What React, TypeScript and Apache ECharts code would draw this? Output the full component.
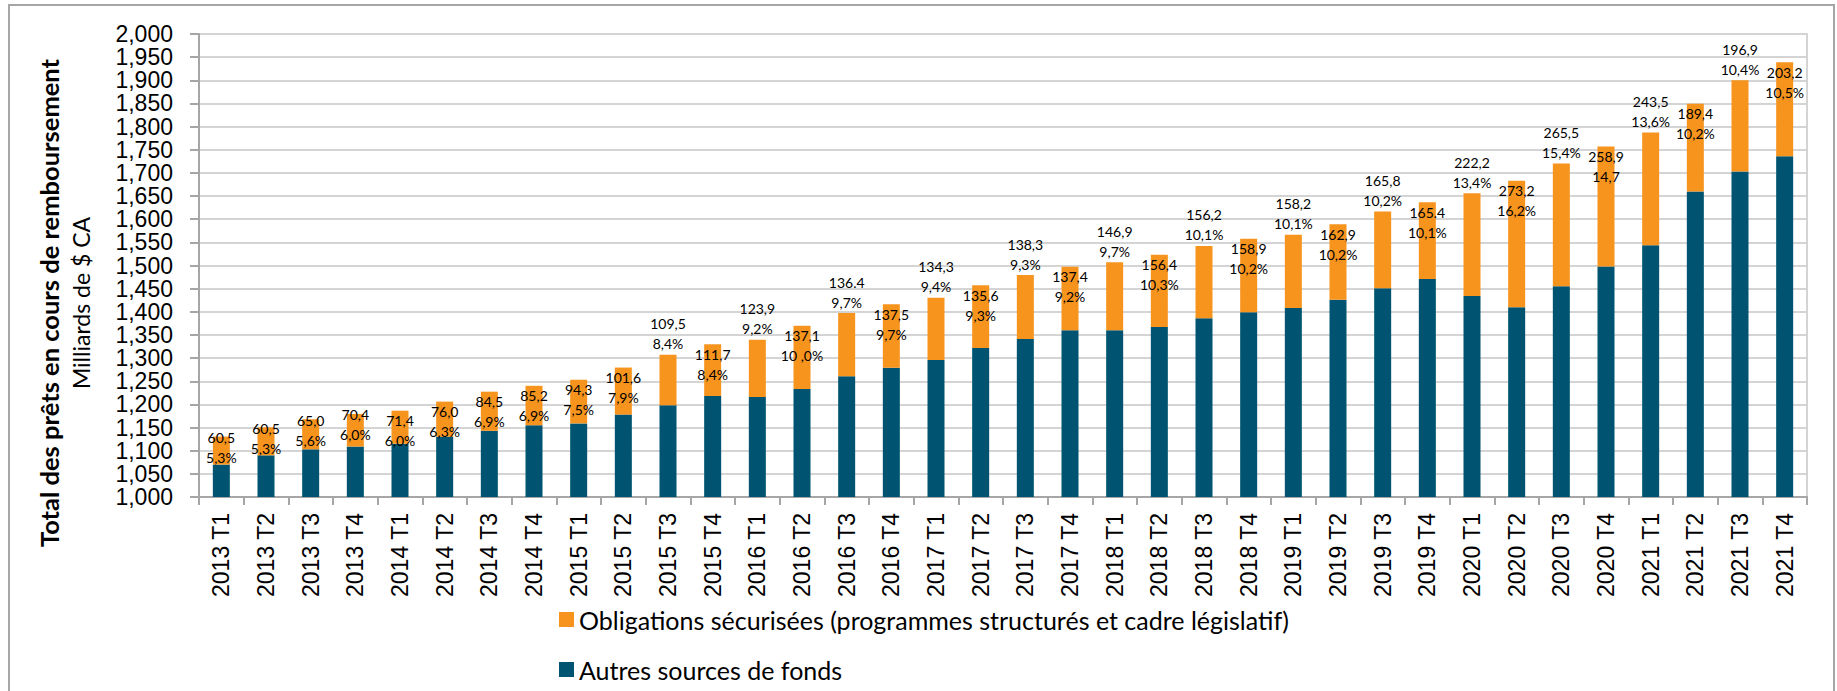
import React, { useEffect, useRef } from "react";
import * as echarts from "echarts";

const categories = [
  "2013 T1", "2013 T2", "2013 T3", "2013 T4",
  "2014 T1", "2014 T2", "2014 T3", "2014 T4",
  "2015 T1", "2015 T2", "2015 T3", "2015 T4",
  "2016 T1", "2016 T2", "2016 T3", "2016 T4",
  "2017 T1", "2017 T2", "2017 T3", "2017 T4",
  "2018 T1", "2018 T2", "2018 T3", "2018 T4",
  "2019 T1", "2019 T2", "2019 T3", "2019 T4",
  "2020 T1", "2020 T2", "2020 T3", "2020 T4",
  "2021 T1", "2021 T2", "2021 T3", "2021 T4",
];

// Autres sources de fonds (milliards de $ CA)
const autres = [
  1070, 1090, 1103, 1109, 1115, 1130, 1143, 1155, 1159, 1178, 1198, 1218,
  1216, 1233, 1261, 1279, 1296, 1322, 1341, 1360, 1360, 1367, 1386, 1399,
  1408, 1426, 1451, 1471, 1434, 1410, 1455, 1498, 1544, 1660, 1703, 1736,
];

// Obligations sécurisées (milliards de $ CA)
const obligations = [
  60.5, 60.5, 65.0, 70.4, 71.4, 76.0, 84.5, 85.2, 94.3, 101.6, 109.5, 111.7,
  123.9, 137.1, 136.4, 137.5, 134.3, 135.6, 138.3, 137.4, 146.9, 156.4, 156.2, 158.9,
  158.2, 162.9, 165.8, 165.4, 222.2, 273.2, 265.5, 258.9, 243.5, 189.4, 196.9, 203.2,
];

const obligationLabels = [
  "60,5", "60,5", "65,0", "70,4", "71,4", "76,0", "84,5", "85,2", "94,3", "101,6", "109,5", "111,7",
  "123,9", "137,1", "136.4", "137,5", "134,3", "135,6", "138,3", "137,4", "146,9", "156,4", "156,2", "158,9",
  "158,2", "162,9", "165,8", "165.4", "222,2", "273,2", "265,5", "258,9", "243,5", "189,4", "196,9", "203,2",
];

const shareLabels = [
  "5,3%", "5,3%", "5,6%", "6,0%", "6,0%", "6,3%", "6,9%", "6,9%", "7,5%", "7,9%", "8,4%", "8,4%",
  "9,2%", "10 ,0%", "9,7%", "9,7%", "9,4%", "9,3%", "9,3%", "9,2%", "9,7%", "10,3%", "10,1%", "10,2%",
  "10,1%", "10,2%", "10,2%", "10,1%", "13,4%", "16,2%", "15,4%", "14,7", "13,6%", "10,2%", "10,4%", "10,5%",
];

const seriesNames = [
  "Obligations sécurisées (programmes structurés et cadre législatif)",
  "Autres sources de fonds",
];

const yTitle = "Total des prêts en cours de remboursement";
const ySubTitle = "Milliards de $ CA";

const ORANGE = "#F7941E";
const BLUE = "#005472";

export default function App() {
  const ref = useRef<HTMLDivElement>(null);

  useEffect(() => {
    if (!ref.current) return;
    const chart = echarts.init(ref.current, undefined, { renderer: "svg" });

    const isAbove = (i: number) => i >= 10 && (i - 10) % 2 === 0;
    const labelDistance = (i: number) => (isAbove(i) ? 1 : i < 4 ? -9 : 0);

    const option = {
      animation: false,
      backgroundColor: "#ffffff",
      grid: {
        left: 199,
        right: 30,
        top: 34,
        bottom: 194,
        show: true,
        borderColor: "#D4D4D4",
        borderWidth: 2,
      },
      legend: {
        orient: "vertical",
        left: 559,
        top: 607,
        height: 84,
        padding: 0,
        itemWidth: 15,
        itemHeight: 15,
        itemGap: 25,
        icon: "rect",
        data: seriesNames,
        textStyle: {
          fontFamily: "Lato",
          fontSize: 25,
          lineHeight: 25,
          color: "#000",
        },
      },
      xAxis: {
        type: "category",
        data: categories,
        axisLine: { lineStyle: { color: "#A6A6A6", width: 2 } },
        axisTick: { show: true, length: 8, lineStyle: { color: "#A6A6A6", width: 2 } },
        axisLabel: {
          rotate: 90,
          interval: 0,
          margin: 16,
          fontFamily: "Liberation Sans",
          fontSize: 23,
          color: "#000",
        },
      },
      yAxis: {
        type: "value",
        min: 1000,
        max: 2000,
        interval: 50,
        axisLine: { show: true, lineStyle: { color: "#A6A6A6", width: 2 } },
        axisTick: { show: true, length: 9, lineStyle: { color: "#A6A6A6", width: 2 } },
        splitLine: { lineStyle: { color: "#D4D4D4", width: 2 } },
        axisLabel: {
          margin: 26,
          showMinLabel: true,
          showMaxLabel: true,
          fontFamily: "Liberation Sans",
          fontSize: 23,
          color: "#000",
          formatter: (v: number) => {
            const th = Math.floor(v / 1000);
            const rest = String(Math.round(v % 1000)).padStart(3, "0");
            return `${th},${rest}`;
          },
        },
      },
      series: [
        {
          name: seriesNames[1],
          type: "bar",
          stack: "total",
          barWidth: 17,
          itemStyle: { color: BLUE },
          data: autres,
        },
        {
          name: seriesNames[0],
          type: "bar",
          stack: "total",
          barWidth: 17,
          itemStyle: { color: ORANGE },
          data: obligations.map((v, i) => ({
            value: v,
            label: {
              position: isAbove(i) ? "top" : "insideTop",
              distance: labelDistance(i),
            },
          })),
          label: {
            show: true,
            fontFamily: "Lato",
            fontSize: 14,
            lineHeight: 20,
            color: "#000",
            align: "center",
            formatter: (p: any) =>
              `${obligationLabels[p.dataIndex]}\n${shareLabels[p.dataIndex]}`,
          },
        },
      ],
      graphic: [
        {
          type: "rect",
          shape: { x: 9, y: 5, width: 1825, height: 720 },
          style: { fill: "none", stroke: "#A6A6A6", lineWidth: 2 },
          silent: true,
        },
        {
          type: "text",
          x: 49,
          y: 303,
          rotation: Math.PI / 2,
          style: {
            text: yTitle,
            fontFamily: "Lato",
            fontWeight: "bold",
            fontSize: 25.5,
            fill: "#000",
            textAlign: "center",
            textVerticalAlign: "middle",
          },
        },
        {
          type: "text",
          x: 81,
          y: 303,
          rotation: Math.PI / 2,
          style: {
            text: ySubTitle,
            fontFamily: "Lato",
            fontSize: 23,
            fill: "#000",
            textAlign: "center",
            textVerticalAlign: "middle",
          },
        },
      ],
    };

    chart.setOption(option as any);
    return () => chart.dispose();
  }, []);

  return (
    <div
      ref={ref}
      style={{ position: "fixed", left: 0, top: 0, width: 1837, height: 691 }}
    />
  );
}
